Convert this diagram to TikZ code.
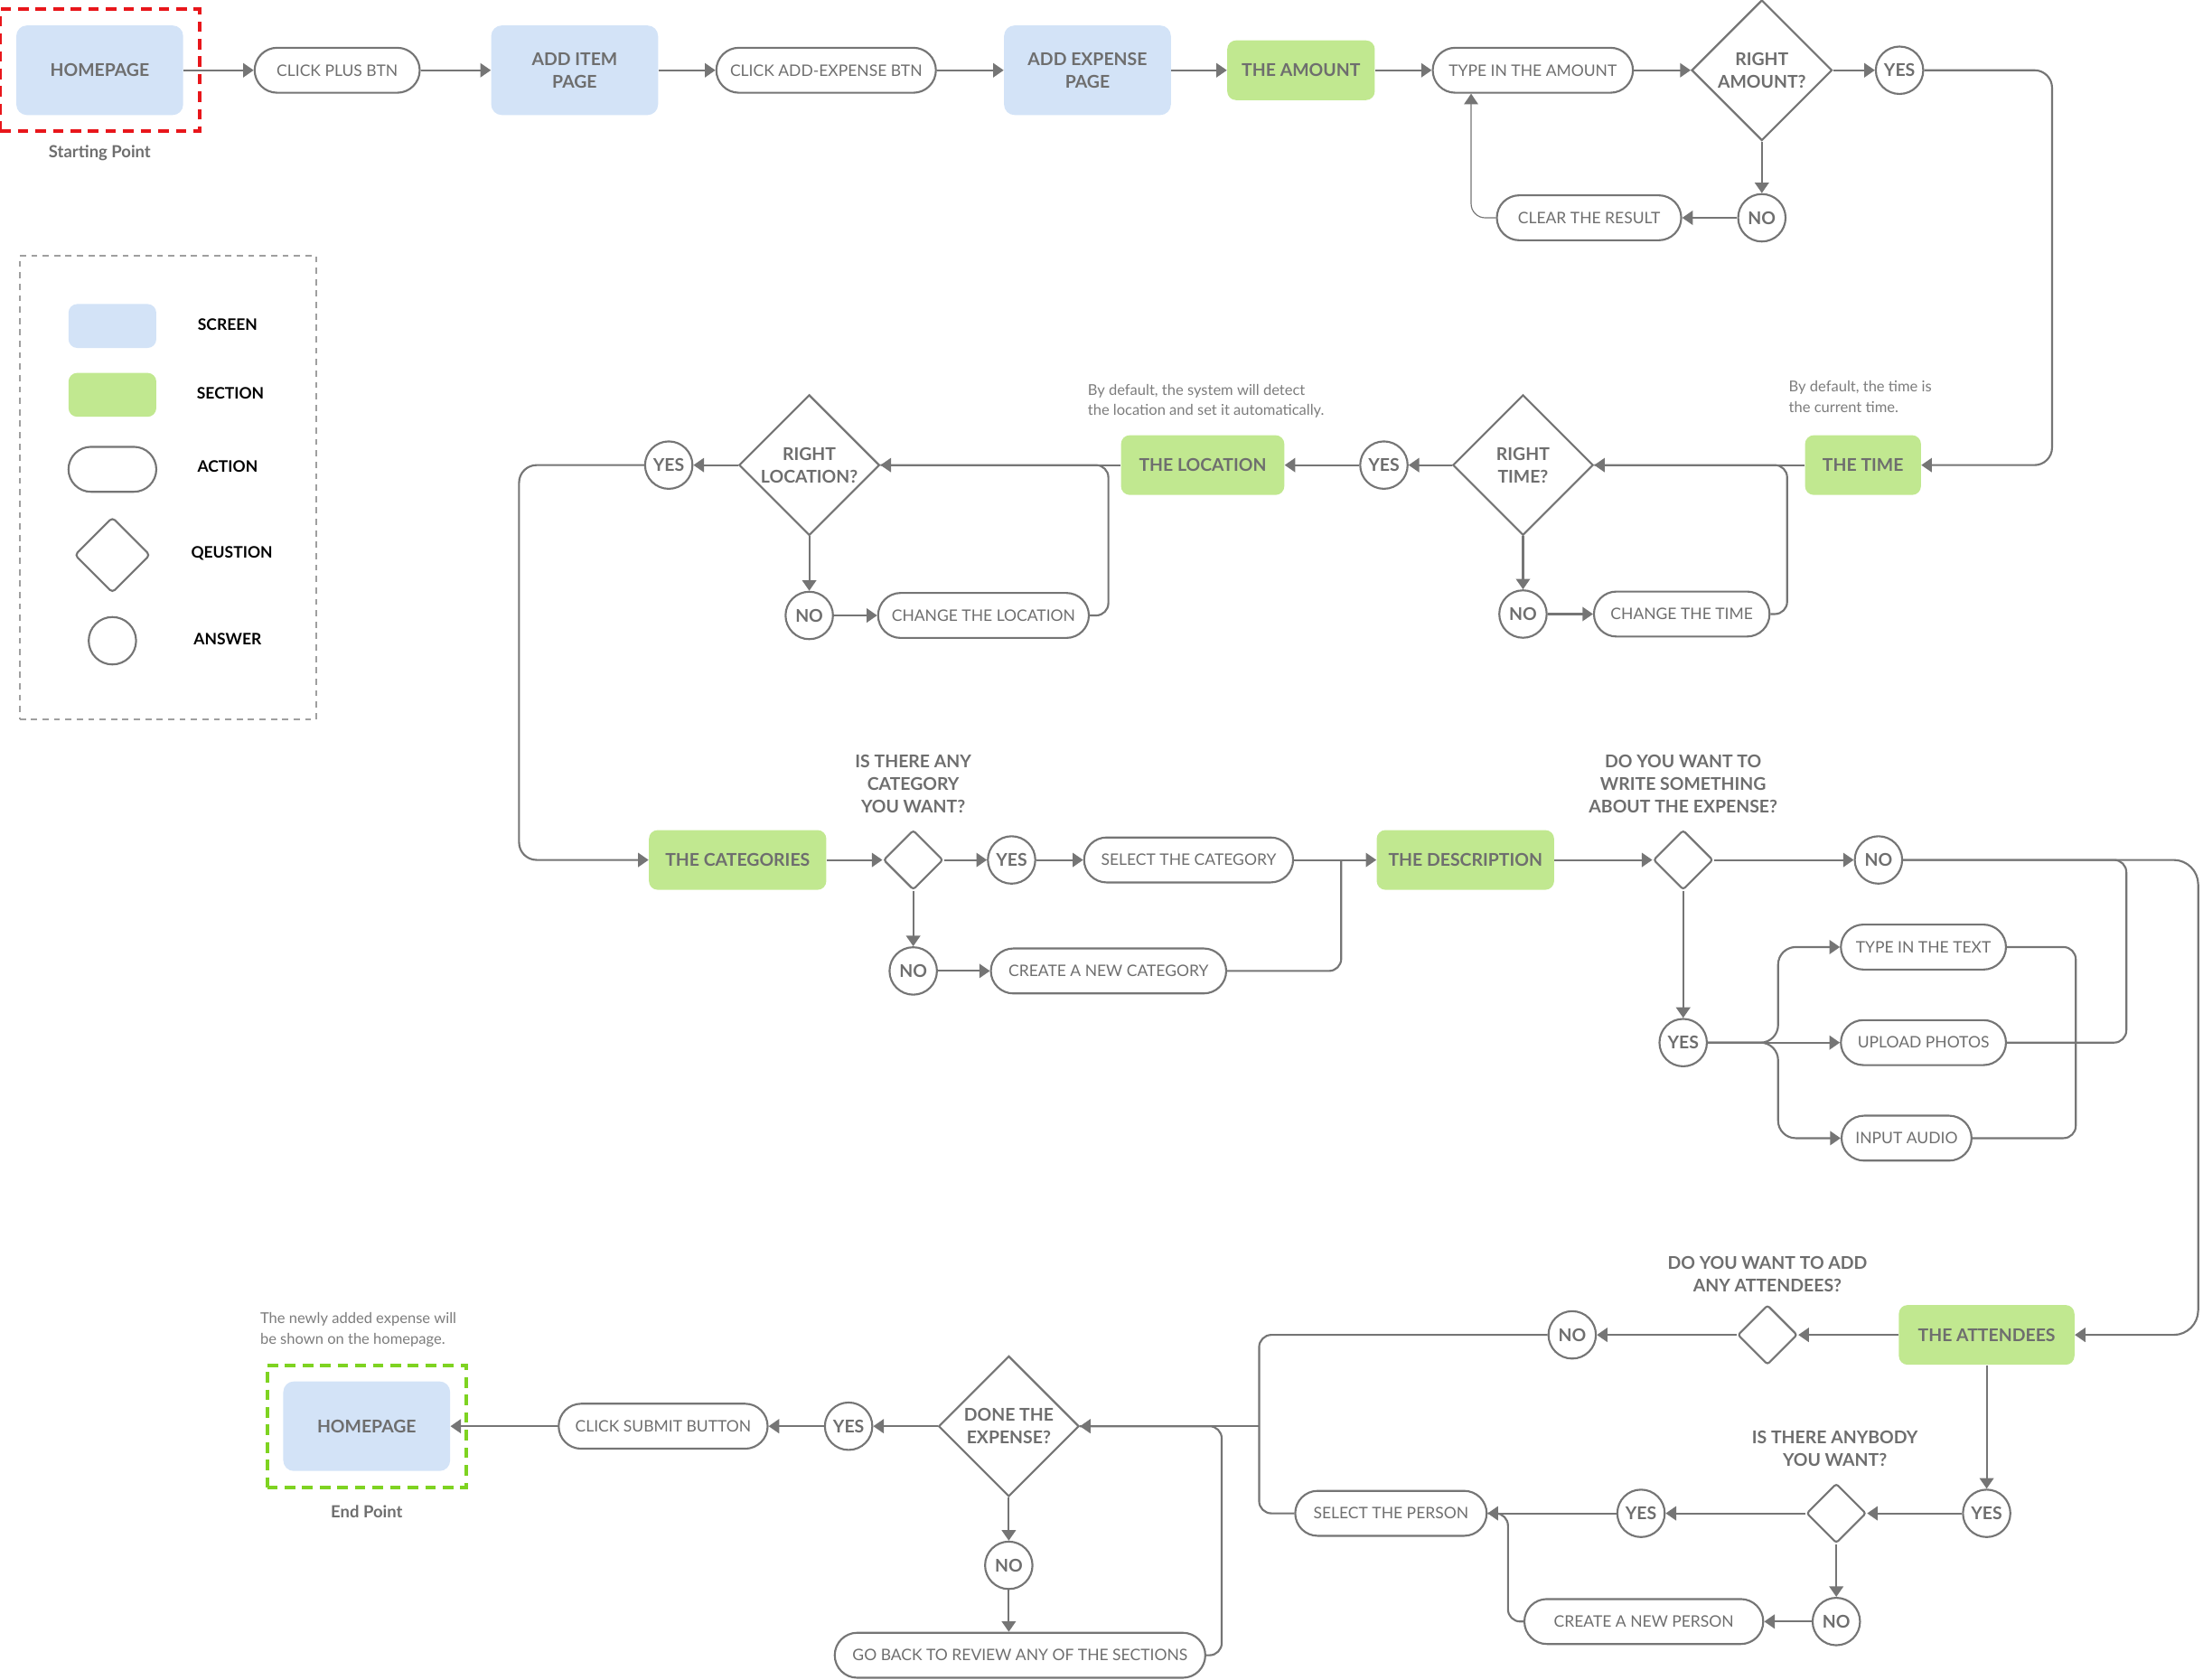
\documentclass[tikz,border=0pt]{standalone}
\usepackage{fontspec}
\setmainfont{Lato}
\usepackage{tikz}
\usetikzlibrary{arrows.meta,fit,shapes}
\definecolor{scrblue}{HTML}{D3E3F7}
\definecolor{secgreen}{HTML}{C1E890}
\definecolor{flowgray}{HTML}{757575}
\definecolor{txtgray}{HTML}{6E6E6E}
\definecolor{startred}{HTML}{E8161B}
\definecolor{endgreen}{HTML}{7ED321}
\tikzstyle{screen}=[fill=scrblue,rounded corners=6pt,minimum width=95pt,minimum height=51pt,align=center,text=txtgray,font=\fontsize{10}{13}\selectfont\bfseries]
\tikzstyle{section}=[fill=secgreen,rounded corners=5pt,minimum height=34pt,text=txtgray,font=\fontsize{10}{12}\selectfont\bfseries]
\tikzstyle{action}=[draw=flowgray,line width=1.1pt,rounded corners=12.8pt,minimum height=25.6pt,text=txtgray,font=\fontsize{9}{11}\selectfont]
\tikzstyle{question}=[draw=flowgray,line width=1.1pt,diamond,aspect=1,inner sep=0pt,minimum size=80pt,align=center,text=txtgray,font=\fontsize{10}{13}\selectfont\bfseries]
\tikzstyle{smallq}=[draw=flowgray,line width=1.1pt,diamond,inner sep=0pt,minimum size=34pt,rounded corners=1.5pt]
\tikzstyle{answer}=[draw=flowgray,line width=1.1pt,circle,inner sep=0pt,minimum size=27pt,text=txtgray,font=\fontsize{10}{12}\selectfont\bfseries]
\tikzstyle{qlabel}=[align=center,text=txtgray,font=\fontsize{10}{13}\selectfont\bfseries]
\tikzstyle{note}=[align=left,anchor=north west,inner sep=0pt,text=txtgray!90,font=\fontsize{8.5}{11.5}\selectfont]
\tikzstyle{pointlabel}=[text=txtgray,font=\fontsize{9.5}{11}\selectfont\bfseries]
\tikzstyle{startframe}=[draw=startred,line width=2pt,dash pattern=on 6pt off 4pt,inner sep=9pt]
\tikzstyle{endframe}=[draw=endgreen,line width=2pt,dash pattern=on 6pt off 4pt,inner sep=9pt]
\tikzstyle{legendtext}=[font=\fontsize{9}{11}\selectfont\bfseries]
\tikzstyle{flow}=[draw=flowgray,line width=1.1pt,rounded corners=10pt,-{Triangle[length=6pt,width=8pt]}]
\tikzstyle{joint}=[draw=flowgray,line width=1.1pt,rounded corners=7pt]

\begin{document}
\begin{tikzpicture}[x=0.8pt,y=-0.8pt]
\useasboundingbox (0,0) rectangle (1568,1195);

\node[screen] (home) at (71,50) {HOMEPAGE};
\node[startframe,fit=(home)] (start) {};
\node[pointlabel] (startlabel) at (71,109) {Starting Point};
\node[action,minimum width=94pt] (plusbtn) at (240,50) {CLICK PLUS BTN};
\node[screen] (additem) at (409,50) {ADD ITEM\\PAGE};
\node[action,minimum width=125pt] (expbtn) at (588,50) {CLICK ADD-EXPENSE BTN};
\node[screen] (addexp) at (774,50) {ADD EXPENSE\\PAGE};
\node[section,minimum width=84pt] (amount) at (926,50) {THE AMOUNT};
\node[action,minimum width=114pt] (typeamt) at (1091,50) {TYPE IN THE AMOUNT};
\node[question] (rightamt) at (1254,50) {RIGHT\\AMOUNT?};
\node[answer] (yesamt) at (1352,50) {YES};
\node[answer] (noamt) at (1254,155) {NO};
\node[action,minimum width=105pt] (clear) at (1131,155) {CLEAR THE RESULT};

\draw[flow] (home) -- (plusbtn);
\draw[flow] (plusbtn) -- (additem);
\draw[flow] (additem) -- (expbtn);
\draw[flow] (expbtn) -- (addexp);
\draw[flow] (addexp) -- (amount);
\draw[flow] (amount) -- (typeamt);
\draw[flow] (typeamt) -- (rightamt);
\draw[flow] (rightamt) -- (yesamt);
\draw[flow] (rightamt) -- (noamt);
\draw[flow] (noamt) -- (clear);
\draw[flow,line width=0.6pt,rounded corners=8pt] (clear.west) -| ([xshift=22.4pt]typeamt.south west);

\node[section,minimum width=66pt] (time) at (1326,331) {THE TIME};
\node[note] (timenote) at (1273,271) {By default, the time is\\the current time.};
\node[question] (righttime) at (1084,331) {RIGHT\\TIME?};
\node[answer] (notime) at (1084,437) {NO};
\node[action,minimum width=100pt] (changetime) at (1197,437) {CHANGE THE TIME};
\node[answer] (yestime) at (985,331) {YES};
\node[section,minimum width=93pt] (location) at (856,331) {THE LOCATION};
\node[note] (locnote) at (774,273) {By default, the system will detect\\the location and set it automatically.};
\node[question] (rightloc) at (576,331) {RIGHT\\LOCATION?};
\node[answer] (noloc) at (576,438) {NO};
\node[action,minimum width=120pt] (changeloc) at (700,438) {CHANGE THE LOCATION};
\node[answer] (yesloc) at (476,331) {YES};

\draw[flow] (yesamt.east) -- ++(91,0) |- (time.east);
\draw[flow] (time) -- (righttime);
\draw[flow] (righttime) -- (notime);
\draw[flow] (notime) -- (changetime);
\draw[joint] (changetime.east) -| ([xshift=-10pt]time.west) -- (righttime.east);
\draw[flow] (righttime) -- (yestime);
\draw[flow] (yestime) -- (location);
\draw[flow] (location) -- (rightloc);
\draw[flow] (rightloc) -- (noloc);
\draw[flow] (noloc) -- (changeloc);
\draw[joint] (changeloc.east) -| ([xshift=-7pt]location.west) -- (rightloc.east);
\draw[flow] (rightloc) -- (yesloc);

\node[section,minimum width=101pt] (categories) at (525,612) {THE CATEGORIES};
\node[smallq] (catq) at (650,612) {};
\node[qlabel] (catlabel) at (650,558) {IS THERE ANY\\CATEGORY\\YOU WANT?};
\node[answer] (yescat) at (720,612) {YES};
\node[action,minimum width=119pt] (selcat) at (846,612) {SELECT THE CATEGORY};
\node[answer] (nocat) at (650,691) {NO};
\node[action,minimum width=134pt] (newcat) at (789,691) {CREATE A NEW CATEGORY};
\node[section,minimum width=101pt] (descr) at (1043,612) {THE DESCRIPTION};
\node[smallq] (descq) at (1198,612) {};
\node[qlabel] (desclabel) at (1198,558) {DO YOU WANT TO\\WRITE SOMETHING\\ABOUT THE EXPENSE?};
\node[answer] (nodesc) at (1337,612) {NO};
\node[answer] (yesdesc) at (1198,742) {YES};
\node[action,minimum width=94pt] (typetext) at (1369,674) {TYPE IN THE TEXT};
\node[action,minimum width=94pt] (upload) at (1369,742) {UPLOAD PHOTOS};
\node[action,minimum width=74pt] (audio) at (1357,810) {INPUT AUDIO};

\draw[flow] (yesloc.west) -- ++(-89,0) |- (categories.west);
\draw[flow] (categories) -- (catq);
\draw[flow] (catq) -- (yescat);
\draw[flow] (yescat) -- (selcat);
\draw[flow] (catq) -- (nocat);
\draw[flow] (nocat) -- (newcat);
\draw[flow] (selcat) -- (descr);
\draw[joint] (newcat.east) -| ([xshift=-20pt]descr.west);
\draw[flow] (descr) -- (descq);
\draw[flow] (descq) -- (nodesc);
\draw[flow] (descq) -- (yesdesc);
\draw[flow] (yesdesc.east) -- ++(50,0) |- (typetext.west);
\draw[flow] (yesdesc) -- (upload);
\draw[flow] (yesdesc.east) -- ++(50,0) |- (audio.west);
\draw[joint] (typetext.east) -- ++(49,0) |- (audio.east);
\draw[joint] (upload.east) -- ++(85,0) |- (nodesc.east);

\node[section,minimum width=100pt] (attendees) at (1414,950) {THE ATTENDEES};
\node[smallq] (attq) at (1258,950) {};
\node[qlabel] (attlabel) at (1258,907) {DO YOU WANT TO ADD\\ANY ATTENDEES?};
\node[answer] (noatt) at (1119,950) {NO};
\node[answer] (yesatt) at (1414,1077) {YES};
\node[smallq] (personq) at (1307,1077) {};
\node[qlabel] (personlabel) at (1306,1031) {IS THERE ANYBODY\\YOU WANT?};
\node[answer] (yesperson) at (1168,1077) {YES};
\node[action,minimum width=109pt] (selperson) at (990,1077) {SELECT THE PERSON};
\node[answer] (noperson) at (1307,1154) {NO};
\node[action,minimum width=136pt] (newperson) at (1170,1154) {CREATE A NEW PERSON};
\coordinate (attbus) at ([xshift=-20pt]selperson.west);

\draw[flow,rounded corners=14pt] (nodesc.east) -- ++(210,0) |- (attendees.east);
\draw[flow] (attendees) -- (attq);
\draw[flow] (attq) -- (noatt);
\draw[joint] (noatt.west) -| (attbus) -- (selperson.west);
\draw[flow] (attendees) -- (yesatt);
\draw[flow] (yesatt) -- (personq);
\draw[flow] (personq) -- (yesperson);
\draw[flow] (yesperson) -- (selperson);
\draw[flow] (personq) -- (noperson);
\draw[flow] (noperson) -- (newperson);
\draw[joint] (newperson.west) -- ++(-11,0) |- (selperson.east);

\node[question] (done) at (718,1015) {DONE THE\\EXPENSE?};
\node[answer] (yesdone) at (604,1015) {YES};
\node[action,minimum width=119pt] (submit) at (472,1015) {CLICK SUBMIT BUTTON};
\node[screen] (endhome) at (261,1015) {HOMEPAGE};
\node[endframe,fit=(endhome)] (end) {};
\node[pointlabel] (endlabel) at (261,1076) {End Point};
\node[note] (endnote) at (185,934) {The newly added expense will\\be shown on the homepage.};
\node[answer] (nodone) at (718,1114) {NO};
\node[action,minimum width=211pt] (goback) at (726,1178) {GO BACK TO REVIEW ANY OF THE SECTIONS};

\draw[flow] (attbus |- done.east) -- (done.east);
\draw[flow] (done) -- (yesdone);
\draw[flow] (yesdone) -- (submit);
\draw[flow] (submit) -- (endhome);
\draw[flow] (done) -- (nodone);
\draw[flow] (nodone) -- (nodone |- goback.north);
\draw[joint] (goback.east) -- ++(11,0) |- (done.east);

\node[draw=gray!75,line width=1pt,dash pattern=on 3.5pt off 3pt,minimum width=168.8pt,minimum height=264pt] (legend) at (119.5,347) {};
\node[fill=scrblue,rounded corners=5pt,minimum width=50pt,minimum height=25pt] (lscreen) at (80,232) {};
\node[fill=secgreen,rounded corners=5pt,minimum width=50pt,minimum height=25pt] (lsection) at (80,281) {};
\node[action,minimum width=50pt] (laction) at (80,334) {};
\node[smallq,minimum size=43pt,rounded corners=2pt] (lquestion) at (80,395) {};
\node[answer] (lanswer) at (80,456) {};
\node[legendtext] (lscreentext) at (162,231) {SCREEN};
\node[legendtext] (lsectiontext) at (164,280) {SECTION};
\node[legendtext] (lactiontext) at (162,332) {ACTION};
\node[legendtext] (lquestiontext) at (165,394) {QEUSTION};
\node[legendtext] (lanswertext) at (162,455) {ANSWER};
\end{tikzpicture}
\end{document}
